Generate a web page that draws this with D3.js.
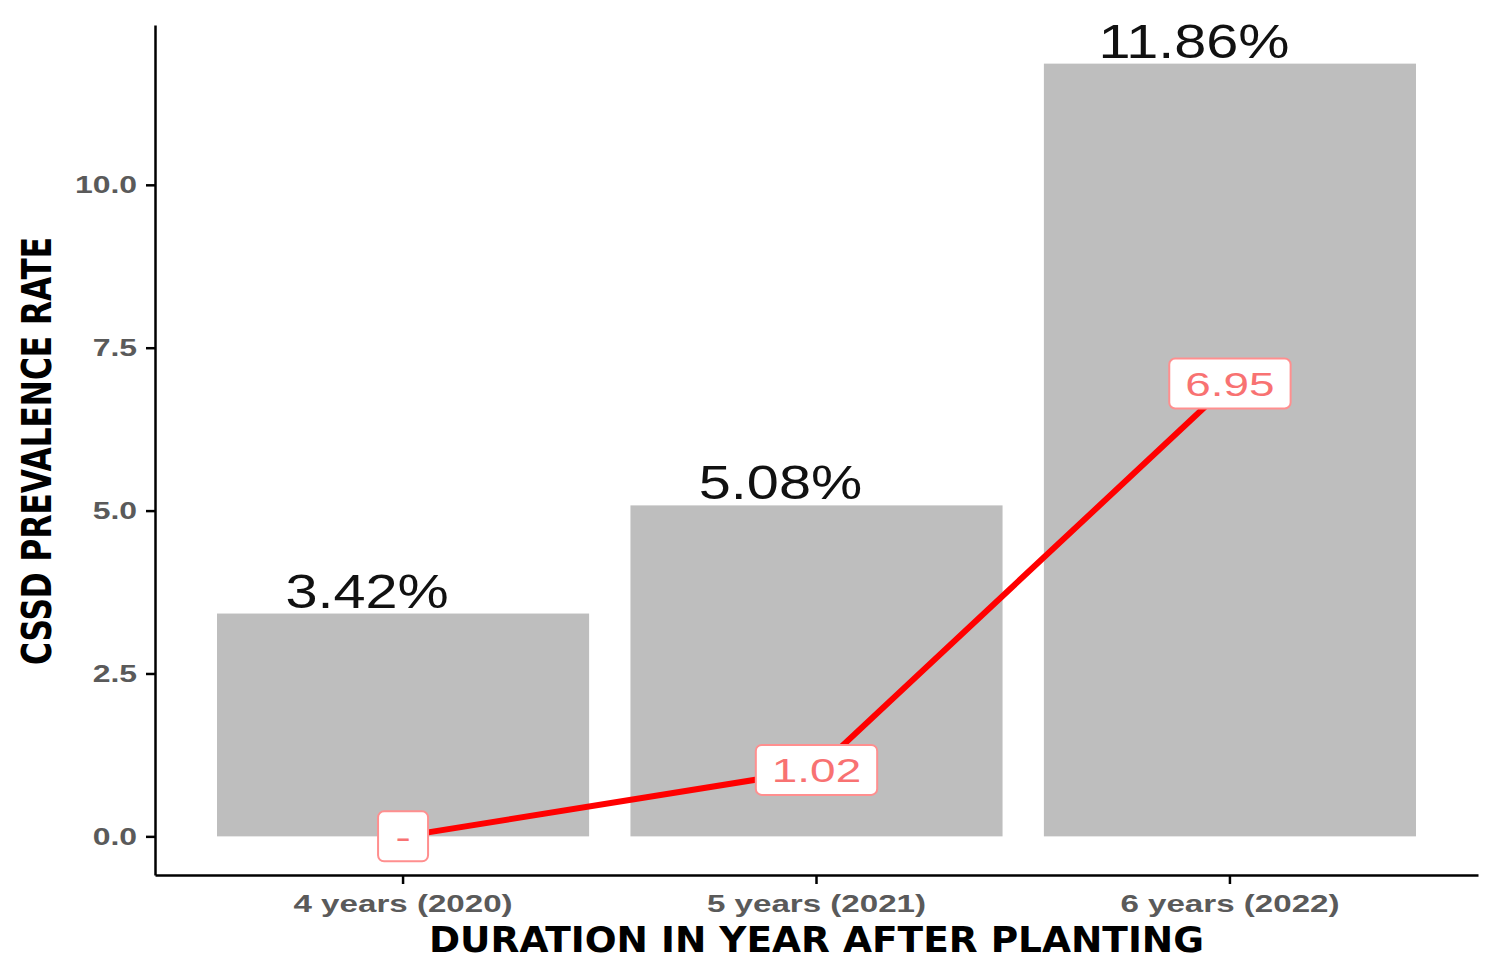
<!DOCTYPE html>
<html lang="en">
<head>
    <meta charset="UTF-8">
    <title>CSSD Prevalence Rate</title>
    <script src="https://d3js.org/d3.v7.min.js"></script>
    <style>
        body {
            margin: 0;
            background: #fff;
        }

        svg {
            display: block;
            font-family: 'Liberation Sans', Arial, sans-serif;
        }

        .axis path,
        .axis line {
            stroke: #000;
            stroke-width: 2.5;
            fill: none;
        }

        .axis text {
            fill: #5a5a5a;
            font-weight: bold;
            font-size: 24px;
        }

        .axis-title {
            font-family: 'Liberation Sans Narrow', 'DejaVu Sans Condensed', sans-serif;
            font-weight: bold;
            fill: #000;
        }

        .bar {
            fill: #bebebe;
        }

        .bar-label {
            font-size: 48px;
            fill: #111;
        }

        .point-box {
            fill: #fff;
            stroke: #ff8f8f;
            stroke-width: 2;
        }

        .point-label {
            font-size: 34px;
            fill: #f87272;
        }
    </style>
</head>
<body>
    <svg width="1499" height="972"></svg>

    <script>
        const categories = ['4 years (2020)', '5 years (2021)', '6 years (2022)'];
        const prevalence = [3.42, 5.08, 11.86];
        const lineValues = [0, 1.02, 6.95];
        const lineLabels = ['-', '1.02', '6.95'];
        const yTicks = [0, 2.5, 5, 7.5, 10];

        const svg = d3.select('svg');
        const width = 1499;
        const height = 972;
        const margin = { top: 25, right: 21, bottom: 97, left: 155 };

        // stretch a text horizontally by a factor (the original is distorted)
        function stretch(sel, factor) {
            sel.each(function () {
                const len = this.getComputedTextLength();
                d3.select(this)
                    .attr('textLength', len * factor)
                    .attr('lengthAdjust', 'spacingAndGlyphs');
            });
        }

        const x = d3.scaleBand()
            .domain(categories)
            .range([margin.left, width - margin.right])
            .paddingInner(0.1)
            .paddingOuter(0.15);

        const yMax = d3.max(prevalence);
        const pad = yMax * 0.05;
        const y = d3.scaleLinear()
            .domain([-pad, yMax + pad])
            .range([height - margin.bottom, margin.top]);

        // Bars
        svg.append('g')
            .selectAll('rect')
            .data(prevalence)
            .join('rect')
            .attr('class', 'bar')
            .attr('x', (d, i) => x(categories[i]))
            .attr('y', d => y(d))
            .attr('width', x.bandwidth())
            .attr('height', d => y(0) - y(d));

        // Bar labels
        svg.append('g')
            .selectAll('text')
            .data(prevalence)
            .join('text')
            .attr('class', 'bar-label')
            .attr('text-anchor', 'middle')
            .attr('x', (d, i) => x(categories[i]) + x.bandwidth() / 2 - 36)
            .attr('y', d => y(d) - 6)
            .text(d => d.toFixed(2) + '%')
            .call(stretch, 1.2);

        // Red line
        const line = d3.line()
            .x((d, i) => x(categories[i]) + x.bandwidth() / 2)
            .y(d => y(d));

        svg.append('path')
            .datum(lineValues)
            .attr('d', line)
            .attr('fill', 'none')
            .attr('stroke', '#ff0000')
            .attr('stroke-width', 6);

        // Point labels in boxes
        const labels = svg.append('g')
            .selectAll('g')
            .data(lineValues)
            .join('g')
            .attr('transform', (d, i) =>
                `translate(${x(categories[i]) + x.bandwidth() / 2},${y(d)})`);

        labels.append('rect').attr('class', 'point-box');

        labels.append('text')
            .attr('class', 'point-label')
            .attr('text-anchor', 'middle')
            .attr('dy', '0.36em')
            .text((d, i) => lineLabels[i])
            .call(stretch, 1.35);

        labels.each(function () {
            const t = d3.select(this).select('text').node();
            const w = Math.max(+t.getAttribute('textLength'), 18) + 32;
            d3.select(this).select('rect')
                .attr('x', -w / 2)
                .attr('y', -25)
                .attr('width', w)
                .attr('height', 50)
                .attr('rx', 6);
        });

        // Y axis
        svg.append('g')
            .attr('class', 'axis')
            .attr('transform', `translate(${margin.left},0)`)
            .call(d3.axisLeft(y).tickValues(yTicks)
                .tickFormat(d3.format('.1f')).tickSize(9).tickSizeOuter(0).tickPadding(9))
            .selectAll('text')
            .call(stretch, 1.33);

        // X axis
        svg.append('g')
            .attr('class', 'axis')
            .attr('transform', `translate(0,${height - margin.bottom})`)
            .call(d3.axisBottom(x).tickSize(9).tickSizeOuter(0).tickPadding(10))
            .selectAll('text')
            .attr('dy', '0.75em')
            .call(stretch, 1.38);

        // Axis titles
        svg.append('text')
            .attr('class', 'axis-title')
            .attr('x', (margin.left + width - margin.right) / 2)
            .attr('y', 952)
            .attr('text-anchor', 'middle')
            .attr('font-size', 36)
            .attr('textLength', 775)
            .attr('lengthAdjust', 'spacingAndGlyphs')
            .text('DURATION IN YEAR AFTER PLANTING');

        svg.append('text')
            .attr('class', 'axis-title')
            .attr('transform', 'translate(51,451) rotate(-90)')
            .attr('text-anchor', 'middle')
            .attr('font-size', 40)
            .attr('textLength', 428)
            .attr('lengthAdjust', 'spacingAndGlyphs')
            .text('CSSD PREVALENCE RATE');
    </script>
</body>
</html>
